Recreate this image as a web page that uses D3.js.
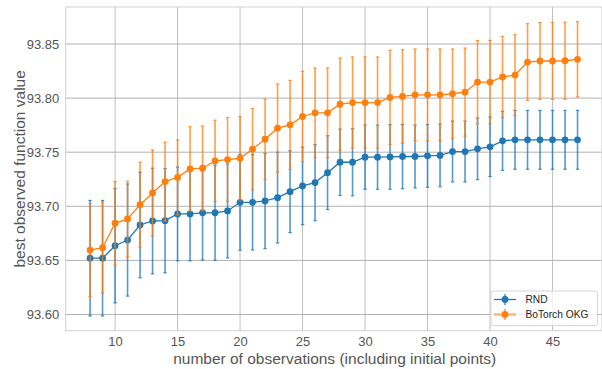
<!DOCTYPE html>
<html>
<head>
<meta charset="utf-8">
<script src="https://cdn.jsdelivr.net/npm/d3@7"></script>
<style>
  html, body { margin: 0; padding: 0; background: #fff; }
  svg { display: block; }
  text { font-family: "Liberation Sans", Arial, sans-serif; }
</style>
</head>
<body>
<svg id="chart" width="602" height="369"></svg>
<script>
// ---- data ----
const observations = [8, 9, 10, 11, 12, 13, 14, 15, 16, 17, 18, 19, 20, 21, 22, 23, 24, 25, 26, 27,
  28, 29, 30, 31, 32, 33, 34, 35, 36, 37, 38, 39, 40, 41, 42, 43, 44, 45, 46, 47];

const rndMean = [93.6520, 93.6520, 93.6635, 93.6688, 93.6827, 93.6864, 93.6867, 93.6929, 93.6929, 93.6940,
  93.6940, 93.6957, 93.7037, 93.7037, 93.7049, 93.7080, 93.7135, 93.7188, 93.7219, 93.7311,
  93.7407, 93.7407, 93.7454, 93.7454, 93.7456, 93.7460, 93.7460, 93.7466, 93.7470, 93.7506,
  93.7506, 93.7531, 93.7550, 93.7605, 93.7614, 93.7614, 93.7614, 93.7614, 93.7614, 93.7614];
const rndErr = [0.0534, 0.0534, 0.0528, 0.0518, 0.0488, 0.0488, 0.0482, 0.0433, 0.0433, 0.0437,
  0.0440, 0.0434, 0.0444, 0.0441, 0.0440, 0.0420, 0.0378, 0.0358, 0.0352, 0.0341,
  0.0307, 0.0310, 0.0297, 0.0297, 0.0298, 0.0297, 0.0290, 0.0290, 0.0290, 0.0281,
  0.0281, 0.0285, 0.0275, 0.0273, 0.0272, 0.0272, 0.0272, 0.0272, 0.0272, 0.0272];

const okgMean = [93.6595, 93.6617, 93.6843, 93.6883, 93.7015, 93.7123, 93.7228, 93.7267, 93.7345, 93.7352,
  93.7420, 93.7432, 93.7444, 93.7528, 93.7620, 93.7722, 93.7753, 93.7830, 93.7864, 93.7864,
  93.7944, 93.7959, 93.7959, 93.7959, 93.8006, 93.8015, 93.8030, 93.8030, 93.8030, 93.8040,
  93.8055, 93.8148, 93.8148, 93.8195, 93.8213, 93.8333, 93.8343, 93.8343, 93.8345, 93.8358];
const okgErr = [0.0430, 0.0420, 0.0386, 0.0348, 0.0392, 0.0398, 0.0364, 0.0347, 0.0390, 0.0390,
  0.0376, 0.0388, 0.0386, 0.0376, 0.0371, 0.0408, 0.0411, 0.0417, 0.0414, 0.0414,
  0.0426, 0.0421, 0.0421, 0.0421, 0.0435, 0.0432, 0.0424, 0.0424, 0.0424, 0.0414,
  0.0408, 0.0385, 0.0385, 0.0375, 0.0373, 0.0355, 0.0355, 0.0355, 0.0356, 0.0348];

const seriesNames = ["RND", "BoTorch OKG"];
const seriesColors = ["#1f77b4", "#ff7f0e"];
const xTicks = [10, 15, 20, 25, 30, 35, 40, 45];
const yTicks = [93.60, 93.65, 93.70, 93.75, 93.80, 93.85];
const xLabel = "number of observations (including initial points)";
const yLabel = "best observed function value";

// ---- layout ----
const W = 602, H = 369;
const plot = { left: 65.7, right: 601.9, top: 7.0, bottom: 330.7 };

const series = [
  { name: seriesNames[0], color: seriesColors[0], mean: rndMean, err: rndErr },
  { name: seriesNames[1], color: seriesColors[1], mean: okgMean, err: okgErr }
];

const allLo = series.flatMap(s => s.mean.map((m, i) => m - s.err[i]));
const allHi = series.flatMap(s => s.mean.map((m, i) => m + s.err[i]));
const yMin = d3.min(allLo), yMax = d3.max(allHi);
const yPad = (yMax - yMin) * 0.05;
const xMin = d3.min(observations), xMax = d3.max(observations);
const xPad = (xMax - xMin) * 0.05;

const x = d3.scaleLinear().domain([xMin - xPad, xMax + xPad]).range([plot.left, plot.right]);
const y = d3.scaleLinear().domain([yMin - yPad, yMax + yPad]).range([plot.bottom, plot.top]);

const svg = d3.select("#chart");
svg.append("rect").attr("width", W).attr("height", H).attr("fill", "#fff");

// grid
const grid = svg.append("g");
grid.selectAll("line.gx").data(xTicks).join("line")
  .attr("x1", d => x(d)).attr("x2", d => x(d))
  .attr("y1", plot.top).attr("y2", plot.bottom)
  .attr("stroke", "#c0c0c0").attr("stroke-width", 1);
grid.selectAll("line.gy").data(yTicks).join("line")
  .attr("x1", plot.left).attr("x2", plot.right)
  .attr("y1", d => y(d)).attr("y2", d => y(d))
  .attr("stroke", "#b2b2b2").attr("stroke-width", 1);

// frame
svg.append("rect")
  .attr("x", plot.left).attr("y", plot.top)
  .attr("width", plot.right - plot.left).attr("height", plot.bottom - plot.top)
  .attr("fill", "none").attr("stroke", "#d2d2d2").attr("stroke-width", 1);

// axes (d3 axes, with domain hidden)
const xAxis = d3.axisBottom(x).tickValues(xTicks).tickFormat(d3.format("d")).tickSize(0).tickPadding(6);
const gx = svg.append("g").attr("transform", `translate(0,${plot.bottom})`).call(xAxis);
gx.select(".domain").remove();
gx.selectAll("text").attr("font-size", 13).attr("fill", "#555").attr("font-family", "Liberation Sans, Arial, sans-serif");

const yAxis = d3.axisLeft(y).tickValues(yTicks).tickFormat(d3.format(".2f")).tickSize(0).tickPadding(6.5);
const gy = svg.append("g").attr("transform", `translate(${plot.left},0)`).call(yAxis);
gy.select(".domain").remove();
gy.selectAll("text").attr("font-size", 13).attr("fill", "#555").attr("font-family", "Liberation Sans, Arial, sans-serif");

// axis labels
svg.append("text").attr("x", 334.7).attr("y", 363.8)
  .attr("text-anchor", "middle").attr("font-size", 15.5).attr("fill", "#555").text(xLabel);
svg.append("text").attr("transform", `translate(25,${(plot.top + plot.bottom) / 2}) rotate(-90)`)
  .attr("text-anchor", "middle").attr("font-size", 15.5).attr("fill", "#555").text(yLabel);

// series
const capHalf = 1.7;
series.forEach(s => {
  const g = svg.append("g");
  const pts = observations.map((o, i) => ({ o, m: s.mean[i], e: s.err[i] }));
  // error bars
  g.selectAll("line.eb").data(pts).join("line")
    .attr("x1", d => x(d.o)).attr("x2", d => x(d.o))
    .attr("y1", d => y(d.m - d.e)).attr("y2", d => y(d.m + d.e))
    .attr("stroke", s.color).attr("stroke-width", 1.6).attr("stroke-opacity", 0.75);
  ["lo", "hi"].forEach(k => {
    g.selectAll("line.cap" + k).data(pts).join("line")
      .attr("x1", d => x(d.o) - capHalf).attr("x2", d => x(d.o) + capHalf)
      .attr("y1", d => y(k === "lo" ? d.m - d.e : d.m + d.e))
      .attr("y2", d => y(k === "lo" ? d.m - d.e : d.m + d.e))
      .attr("stroke", s.color).attr("stroke-width", 1.2).attr("stroke-opacity", 0.8);
  });
  // line
  g.append("path").datum(pts)
    .attr("d", d3.line().x(d => x(d.o)).y(d => y(d.m)))
    .attr("fill", "none").attr("stroke", s.color).attr("stroke-width", 1.3);
  // markers
  g.selectAll("circle").data(pts).join("circle")
    .attr("cx", d => x(d.o)).attr("cy", d => y(d.m)).attr("r", 3.4)
    .attr("fill", s.color);
});

// legend
const lg = svg.append("g");
lg.append("rect").attr("x", 491).attr("y", 291).attr("width", 106.5).attr("height", 34.5)
  .attr("rx", 2.5).attr("fill", "#fff").attr("fill-opacity", 0.8)
  .attr("stroke", "#d6d6d6").attr("stroke-width", 1);
series.forEach((s, i) => {
  const cy = 299.5 + i * 15;
  lg.append("line").attr("x1", 494).attr("x2", 516).attr("y1", cy).attr("y2", cy)
    .attr("stroke", i === 0 ? s.color : "#ffb77a").attr("stroke-width", i === 0 ? 1.3 : 2.6);
  lg.append("line").attr("x1", 505).attr("x2", 505).attr("y1", cy - 5.5).attr("y2", cy + 5.5)
    .attr("stroke", s.color).attr("stroke-width", 1.4).attr("stroke-opacity", 0.85);
  lg.append("circle").attr("cx", 505).attr("cy", cy).attr("r", 3.4).attr("fill", s.color);
  lg.append("text").attr("x", 525.5).attr("y", cy + 3.6).attr("font-size", 10.2)
    .attr("fill", "#262626").text(s.name);
});
</script>
</body>
</html>
